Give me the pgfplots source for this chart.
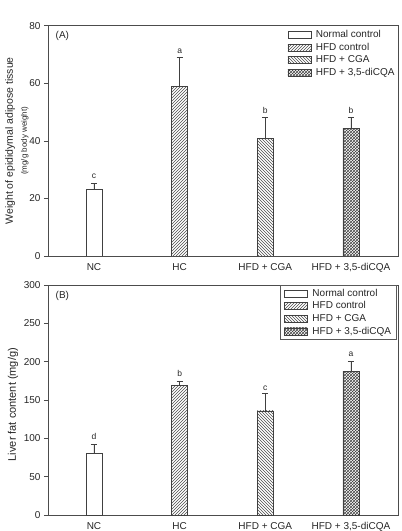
\documentclass[border=0pt]{standalone}
\usepackage{fontspec}
\setmainfont{Liberation Sans}
\usepackage{pgfplots}
\pgfplotsset{compat=1.18}
\usetikzlibrary{patterns}

\begin{document}
\begin{tikzpicture}
\path[use as bounding box] (0pt,0pt) rectangle (402pt,531pt);
\pgfplotsset{
  panel/.style={
    scale only axis, width=350pt, anchor=south west,
    xmin=-0.537, xmax=3.55, ymin=0,
    xtick={0,1,2,3},
    xticklabels={NC,HC,HFD + CGA,{HFD + 3,5-diCQA}},
    major x tick style={draw=none},
    ytick pos=left, tick align=outside, major tick length=4pt,
    y tick style={black!70, line width=0.6pt},
    tick label style={font=\fontsize{10}{11}\selectfont, text=black!85},
    /pgf/number format/assume math mode=true,
    axis line style={black!70, line width=0.8pt},
    ybar, bar width=16pt, bar shift=0pt,
    error bars/y dir=plus, error bars/y explicit,
    error bars/error bar style={line width=0.7pt, black!75},
    error bars/error mark options={rotate=90, mark size=3pt, line width=0.7pt, black!75},
    legend image code/.code={\draw[##1] (0pt,-3.5pt) rectangle (23pt,3.5pt); \path (26.5pt,0pt);},
    legend style={font=\fontsize{10}{11}\selectfont, text=black!85,
      cells={anchor=west}, nodes={inner sep=1.2pt}, row sep=1.6pt},
    every axis plot/.append style={draw=black!75, line width=0.6pt},
    ylabel style={font=\fontsize{10.5}{12}\selectfont, text=black!85, align=center},
  },
  nc/.style={fill=white},
  hc/.style={pattern=north east lines, pattern color=black!70},
  cga/.style={pattern=north west lines, pattern color=black!70},
  dq/.style={pattern=crosshatch, pattern color=black!75},
}

% ---------- Panel A ----------
\begin{axis}[panel, at={(48pt,275pt)}, height=230.4pt, ymax=80,
  ytick={0,20,40,60,80},
  ylabel={Weight of epididymal adipose tissue\\[2pt]{\fontsize{8}{9}\selectfont (mg/g body weight)}},
  ylabel style={at={(axis description cs:-0.089,0.5)}, anchor=center},
  legend style={draw=none, fill=none, at={(axis description cs:0.684,0.985)}, anchor=north west, inner sep=0pt},
]
\addplot[nc] coordinates {(0,23.2) +- (0,1.9)};
\addplot[hc] coordinates {(1,58.8) +- (0,10.1)};
\addplot[cga] coordinates {(2,40.9) +- (0,7.3)};
\addplot[dq] coordinates {(3,44.3) +- (0,4.0)};
\legend{Normal control,HFD control,HFD + CGA,{HFD + 3,5-diCQA}}
\node[font=\fontsize{8.5}{9}\selectfont, text=black!85] at (axis cs:0,27.6) {c};
\node[font=\fontsize{8.5}{9}\selectfont, text=black!85] at (axis cs:1,71.2) {a};
\node[font=\fontsize{8.5}{9}\selectfont, text=black!85] at (axis cs:2,50.6) {b};
\node[font=\fontsize{8.5}{9}\selectfont, text=black!85] at (axis cs:3,50.6) {b};
\node[font=\fontsize{10}{11}\selectfont, text=black!85, anchor=west] at (axis description cs:0.012,0.955) {(A)};
\end{axis}

% ---------- Panel B ----------
\begin{axis}[panel, at={(48pt,16pt)}, height=230pt, ymax=300,
  ytick={0,50,100,150,200,250,300},
  ylabel={Liver fat content (mg/g)},
  ylabel style={font=\fontsize{11}{12}\selectfont, at={(axis description cs:-0.1,0.48)}, anchor=center},
  legend style={draw=black!65, line width=0.6pt, fill=white, at={(axis description cs:0.664,1)}, anchor=north west, inner xsep=3.5pt, inner ysep=2.5pt},
]
\addplot[nc] coordinates {(0,80) +- (0,11.7)};
\addplot[hc] coordinates {(1,168.7) +- (0,6.1)};
\addplot[cga] coordinates {(2,135.7) +- (0,23)};
\addplot[dq] coordinates {(3,187.8) +- (0,12.7)};
\legend{Normal control,HFD control,HFD + CGA,{HFD + 3,5-diCQA}}
\node[font=\fontsize{8.5}{9}\selectfont, text=black!85] at (axis cs:0,102) {d};
\node[font=\fontsize{8.5}{9}\selectfont, text=black!85] at (axis cs:1,184.8) {b};
\node[font=\fontsize{8.5}{9}\selectfont, text=black!85] at (axis cs:2,165.3) {c};
\node[font=\fontsize{8.5}{9}\selectfont, text=black!85] at (axis cs:3,209.6) {a};
\node[font=\fontsize{10}{11}\selectfont, text=black!85, anchor=west] at (axis description cs:0.012,0.952) {(B)};
\end{axis}
\end{tikzpicture}
\end{document}
